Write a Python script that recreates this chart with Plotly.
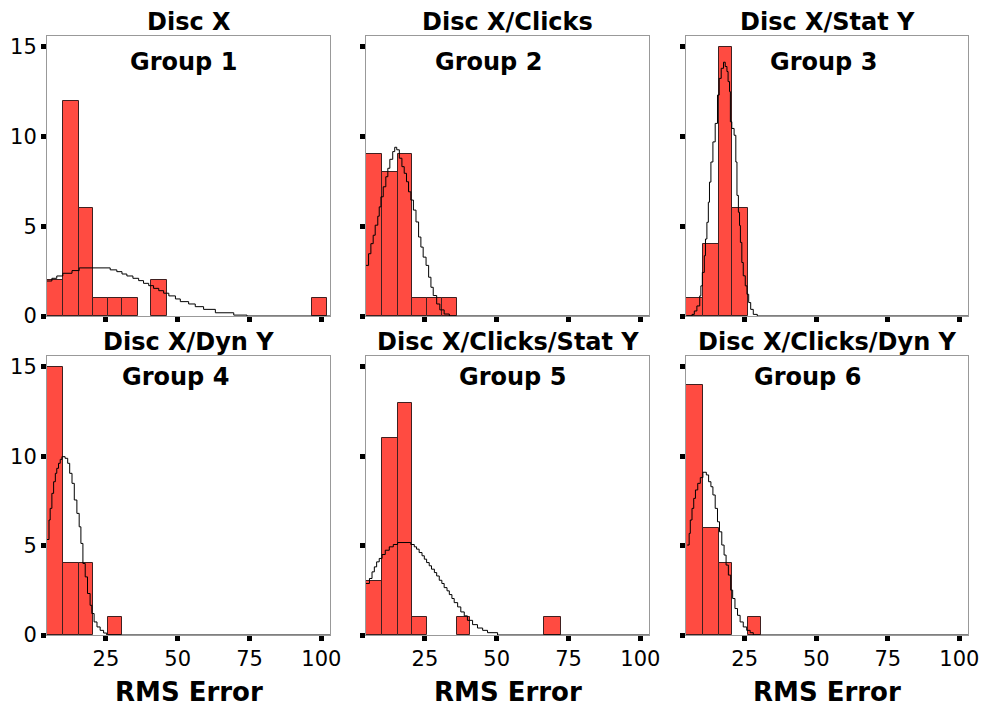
import plotly.graph_objects as go

# ---------------- data ----------------
titles = ["Disc X", "Disc X/Clicks", "Disc X/Stat Y",
          "Disc X/Dyn Y", "Disc X/Clicks/Stat Y", "Disc X/Clicks/Dyn Y"]
groups = ["Group 1", "Group 2", "Group 3", "Group 4", "Group 5", "Group 6"]

x_ticks = [25, 50, 75, 100]
y_ticks = [0, 5, 10, 15]
x_axis_label = "RMS Error"

# histogram bins (left edge, right edge) and counts
g1_left = [4.5, 10.1, 15.7, 20.4, 25.6, 30.6, 40.8, 96.6]
g1_right = [10.1, 15.7, 20.4, 25.6, 30.6, 36.1, 46.3, 102.1]
g1_count = [2, 12, 6, 1, 1, 1, 2, 1]

g2_left = [4.5, 10.2, 15.7, 20.5, 25.9, 30.8]
g2_right = [10.2, 15.7, 20.5, 25.9, 30.8, 36.2]
g2_count = [9, 8, 9, 1, 1, 1]

g3_left = [4.5, 10.3, 15.9, 20.5]
g3_right = [10.3, 15.9, 20.5, 26.2]
g3_count = [1, 4, 15, 6]

g4_left = [4.5, 10.1, 15.7, 25.8]
g4_right = [10.1, 15.7, 20.4, 30.6]
g4_count = [15, 4, 4, 1]

g5_left = [4.5, 10.2, 15.7, 20.5, 36.2, 66.6]
g5_right = [10.2, 15.7, 20.5, 25.9, 40.7, 72.2]
g5_count = [3, 11, 13, 1, 1, 1]

g6_left = [4.5, 10.3, 15.9, 26.2]
g6_right = [10.3, 15.9, 20.5, 30.6]
g6_count = [14, 6, 4, 1]

# normal curves (step start x, value)
c1_x = [4.5, 6.2, 7.9, 10.0, 13.2, 15.7, 26.5, 28.8, 30.6, 32.3, 34.4, 36.4, 38.1, 39.9,
        41.6, 43.4, 45.1, 46.9, 49.2, 50.9, 53.8, 56.1, 59.0, 63.1, 69.5, 74.1, 103]
c1_y = [1.95, 2.1, 2.23, 2.38, 2.53, 2.68, 2.57, 2.47, 2.34, 2.23, 2.1, 1.97, 1.82, 1.69,
        1.54, 1.41, 1.27, 1.12, 0.95, 0.8, 0.67, 0.52, 0.37, 0.18, 0.05, 0.0, 0.0]

c2_x = [4.5, 5.4, 6.2, 7.0, 7.7, 8.6, 9.1, 9.7, 10.5, 11.4, 12.1, 12.8, 13.8, 14.5, 15.2,
        16.1, 17.0, 17.8, 18.6, 19.3, 20.1, 21.0, 21.9, 22.8, 23.6, 24.4, 25.4, 26.3, 27.1,
        27.9, 29.1, 30.2, 31.7, 33.5, 103]
c2_y = [2.82, 3.47, 4.03, 4.5, 5.06, 5.56, 6.08, 6.64, 7.2, 7.76, 8.23, 8.73, 9.16, 9.4, 9.26,
        8.79, 8.32, 7.95, 7.48, 6.92, 6.46, 5.9, 5.24, 4.4, 3.84, 3.28, 2.82, 2.16, 1.6,
        1.14, 0.67, 0.34, 0.11, 0.0, 0.0]

c3_x = [4.9, 6.6, 7.4, 8.3, 9.3, 9.7, 10.2, 10.9, 11.3, 11.8, 12.3, 12.7, 13.2, 13.9, 14.7,
        15.5, 16.1, 16.8, 17.6, 18.2, 18.8, 19.2, 19.7, 20.0, 20.5, 21.3, 21.9, 22.3, 22.8,
        23.2, 23.5, 24.0, 24.5, 25.2, 25.8, 26.4, 27.1, 28.0, 29.4, 103]
c3_y = [0.0, 0.09, 0.28, 0.56, 1.12, 1.68, 2.43, 3.36, 4.29, 5.22, 6.34, 7.46, 8.58, 9.7, 10.73,
        12.31, 13.24, 13.8, 14.14, 13.9, 13.62, 13.06, 12.5, 10.82, 10.45, 10.07, 8.58, 6.72, 5.78,
        5.04, 4.1, 2.98, 2.24, 1.68, 1.21, 0.75, 0.37, 0.09, 0.0, 0.0]

c4_x = [4.5, 5.2, 5.6, 6.2, 6.8, 7.4, 7.9, 8.5, 9.1, 9.7, 10.8, 11.7, 12.4, 13.2, 14.0, 14.9,
        15.7, 16.3, 17.0, 17.8, 18.6, 19.5, 20.1, 20.9, 21.9, 23.0, 24.2, 25.3, 103]
c4_y = [5.34, 6.43, 7.08, 7.92, 8.57, 9.04, 9.32, 9.6, 9.82, 9.97, 9.88, 9.6, 9.04, 8.48, 7.55,
        6.8, 6.05, 5.12, 4.0, 3.25, 2.32, 1.66, 1.2, 0.73, 0.45, 0.26, 0.11, 0.0, 0.0]

c5_x = [4.5, 5.7, 6.6, 7.4, 8.2, 9.1, 10.1, 11.2, 12.6, 14.0, 15.5, 20.1, 21.3, 22.1, 23.0,
        24.0, 24.8, 25.6, 26.5, 27.3, 28.3, 29.1, 30.0, 30.9, 31.7, 32.7, 33.5, 34.4, 35.2,
        36.4, 37.5, 38.7, 39.8, 41.6, 43.3, 45.1, 46.8, 50.3, 103]
c5_y = [2.88, 3.16, 3.53, 3.81, 4.09, 4.28, 4.5, 4.74, 4.93, 5.06, 5.17, 5.06, 4.93, 4.8, 4.61,
        4.43, 4.24, 4.05, 3.87, 3.68, 3.49, 3.3, 3.06, 2.88, 2.65, 2.47, 2.26, 2.04, 1.81,
        1.57, 1.29, 1.07, 0.82, 0.58, 0.39, 0.26, 0.13, 0.0, 0.0]

c6_x = [4.9, 5.6, 6.0, 6.6, 7.2, 7.8, 8.6, 9.5, 10.4, 11.6, 12.4, 13.2, 13.9, 14.7, 15.5, 16.2,
        17.0, 17.8, 18.5, 19.3, 20.1, 20.8, 21.6, 22.5, 23.4, 24.5, 25.7, 26.9, 28.0, 103]
c6_y = [5.03, 5.68, 6.43, 7.08, 7.64, 8.11, 8.48, 8.8, 9.1, 8.95, 8.57, 8.29, 7.83, 7.08, 6.33,
        5.77, 5.03, 4.47, 3.91, 3.35, 2.51, 2.04, 1.48, 1.1, 0.73, 0.45, 0.26, 0.13, 0.0, 0.0]

bins = [(g1_left, g1_right, g1_count), (g2_left, g2_right, g2_count),
        (g3_left, g3_right, g3_count), (g4_left, g4_right, g4_count),
        (g5_left, g5_right, g5_count), (g6_left, g6_right, g6_count)]
curves = [(c1_x, c1_y), (c2_x, c2_y), (c3_x, c3_y), (c4_x, c4_y), (c5_x, c5_y), (c6_x, c6_y)]

# ---------------- layout ----------------
W, H = 983, 709
col_px = [(47, 330), (366, 649), (686, 968)]
row_px = [(36, 316), (356, 635)]
title_y = [22, 342]
group_y = [62, 377]
group_label_x = [183, 488, 823, 175, 512, 807]

BAR_COLOR = "#ff4b41"
FONT = "DejaVu Sans"

fig = go.Figure()
layout = dict(
    width=W, height=H, autosize=False, margin=dict(l=0, r=0, t=0, b=0, pad=0),
    paper_bgcolor="white", plot_bgcolor="white", showlegend=False,
    font=dict(family=FONT, color="black"), bargap=0,
)
annotations = []

for i in range(6):
    r, c = divmod(i, 3)
    n = i + 1
    xa = "x" if n == 1 else f"x{n}"
    ya = "y" if n == 1 else f"y{n}"
    left, right, count = bins[i]
    fig.add_trace(go.Bar(
        x=[(a + b) / 2 for a, b in zip(left, right)],
        width=[b - a for a, b in zip(left, right)],
        y=count, base=0,
        marker=dict(color=BAR_COLOR, line=dict(color="#402020", width=1)),
        xaxis=xa, yaxis=ya, hoverinfo="skip",
    ))
    cx, cy = curves[i]
    fig.add_trace(go.Scatter(
        x=cx, y=cy, mode="lines", line=dict(color="black", width=1, shape="hv"),
        xaxis=xa, yaxis=ya, hoverinfo="skip",
    ))
    x0, x1 = col_px[c]
    y0, y1 = row_px[r]
    common = dict(showline=True, mirror=True, linecolor="#999999", linewidth=1,
                  showgrid=False, zeroline=False, ticks="outside", ticklen=5,
                  tickwidth=5, tickcolor="black", automargin=False,
                  tickfont=dict(size=21, family=FONT, color="black"))
    layout["xaxis" if n == 1 else f"xaxis{n}"] = dict(
        domain=[x0 / W, x1 / W], range=[4.5, 103], anchor=ya,
        tickmode="array", tickvals=x_ticks, showticklabels=(r == 1), **common)
    layout["yaxis" if n == 1 else f"yaxis{n}"] = dict(
        domain=[1 - y1 / H, 1 - y0 / H], range=[0, 15.6], anchor=xa,
        tickmode="array", tickvals=y_ticks, showticklabels=(c == 0), **common)
    annotations.append(dict(
        text=f"<b>{titles[i]}</b>", x=(x0 + x1) / 2 / W, y=1 - title_y[r] / H,
        xref="paper", yref="paper", xanchor="center", yanchor="middle",
        showarrow=False, font=dict(size=24, family=FONT)))
    annotations.append(dict(
        text=f"<b>{groups[i]}</b>", x=group_label_x[i] / W, y=1 - group_y[r] / H,
        xref="paper", yref="paper", xanchor="center", yanchor="middle",
        showarrow=False, font=dict(size=24, family=FONT)))
    if r == 1:
        annotations.append(dict(
            text=f"<b>{x_axis_label}</b>", x=(x0 + x1) / 2 / W, y=1 - 692 / H,
            xref="paper", yref="paper", xanchor="center", yanchor="middle",
            showarrow=False, font=dict(size=26, family=FONT)))

layout["annotations"] = annotations
fig.update_layout(**layout)
fig.write_html("out.html")
